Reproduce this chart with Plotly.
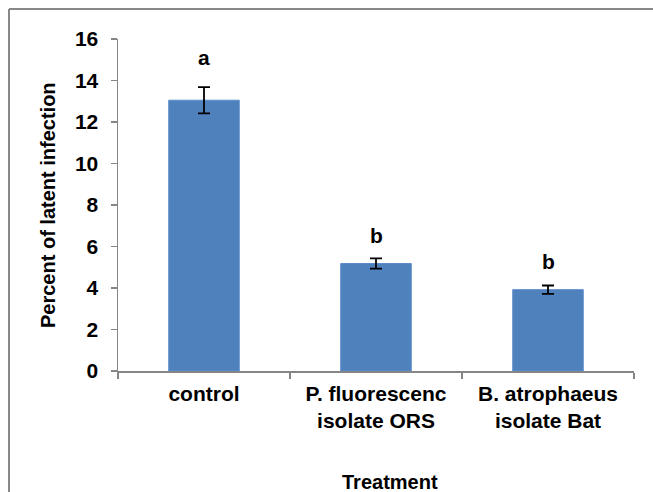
import plotly.graph_objects as go

categories = ["control", "P. fluorescenc<br>isolate ORS", "B. atrophaeus<br>isolate Bat"]
values = [13.05, 5.18, 3.92]
errors = [0.63, 0.25, 0.2]
letters = ["a", "b", "b"]
letter_y = [15.13, 6.55, 5.27]
y_ticks = [0, 2, 4, 6, 8, 10, 12, 14, 16]

FONT = "Liberation Sans, Arial, sans-serif"
AX = "#868686"
FS = 21
FT = 20

W, H = 653, 492
L, R, T, B = 118, 19, 39, 121
PW, PH = W - L - R, H - T - B

fig = go.Figure()
fig.add_trace(go.Bar(
    x=categories, y=values,
    marker=dict(color="#4F81BD", line=dict(color="#5B8DC9", width=1)),
    error_y=dict(type="data", array=errors, color="black", thickness=1.8, width=6),
    width=0.41, showlegend=False, hoverinfo="skip",
))

for c, l, ly in zip(categories, letters, letter_y):
    fig.add_annotation(x=c, y=ly, text=l, showarrow=False, xref="x", yref="y",
                       font=dict(family=FONT, size=FS, color="black", weight="bold"))

fig.add_annotation(x=(390 - L) / PW, y=-(482 - (H - B)) / PH, xref="paper", yref="paper",
                   text="Treatment", showarrow=False, yanchor="middle", xanchor="center",
                   font=dict(family=FONT, size=FT, color="black", weight="bold"))
fig.add_annotation(x=(48 - L) / PW, y=0.5, xref="paper", yref="paper",
                   text="Percent of latent infection",
                   showarrow=False, textangle=-90, xanchor="center", yanchor="middle",
                   font=dict(family=FONT, size=FT, color="black", weight="bold"))

fx0 = (9 - L) / PW
fy1 = ((H - B) - 9) / PH
frame = dict(color="#888888", width=2)
fig.add_shape(type="line", xref="paper", yref="paper", x0=fx0, x1=1.3, y0=fy1, y1=fy1,
              line=frame, layer="below")
fig.add_shape(type="line", xref="paper", yref="paper", x0=fx0, x1=fx0, y0=-0.6, y1=fy1,
              line=frame, layer="below")

fig.update_layout(
    width=W, height=H,
    margin=dict(l=L, r=R, t=T, b=B, pad=0),
    paper_bgcolor="white", plot_bgcolor="white",
    font=dict(family=FONT, size=FS, color="black", weight="bold"),
    xaxis=dict(type="category", showline=True, linecolor=AX, linewidth=1.5,
               ticks="outside", ticklen=6, tickcolor=AX, tickwidth=1.5,
               tickson="boundaries", showgrid=False, zeroline=False,
               tickfont=dict(family=FONT, size=FS, color="black", weight="bold"),
               ticklabelstandoff=3, range=[-0.5, 2.5]),
    yaxis=dict(range=[0, 16], tickvals=y_ticks, showline=True, linecolor=AX, linewidth=1.5,
               ticks="outside", ticklen=6, tickcolor=AX, tickwidth=1.5,
               showgrid=False, zeroline=False,
               tickfont=dict(family=FONT, size=FS, color="black", weight="bold"),
               ticklabelstandoff=8),
    xaxis2=dict(overlaying="x", range=[-0.5, 2.5], tickvals=[-0.5, 0.5, 1.5, 2.5],
                ticks="inside", ticklen=6, tickcolor=AX, tickwidth=1.5,
                showticklabels=False, showgrid=False, zeroline=False, showline=False),
    yaxis2=dict(overlaying="y", range=[0, 16], tickvals=y_ticks,
                ticks="inside", ticklen=6, tickcolor=AX, tickwidth=1.5,
                showticklabels=False, showgrid=False, zeroline=False, showline=False),
)

fig.write_html("out.html", config={"displayModeBar": False, "staticPlot": True},
               post_script="document.body.style.margin='0';document.body.style.overflow='hidden';")
